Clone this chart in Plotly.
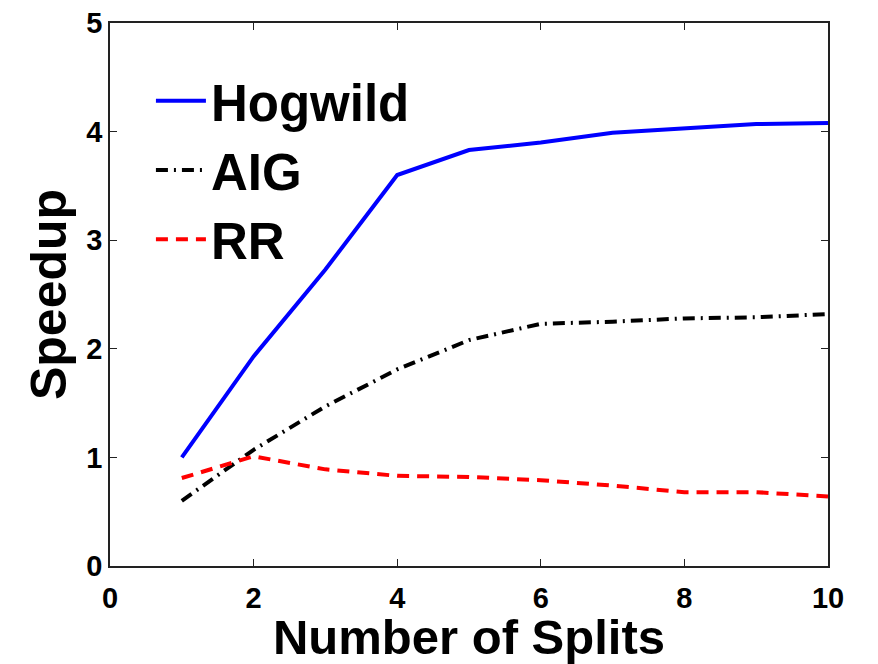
import plotly.graph_objects as go

splits = [1, 2, 3, 4, 5, 6, 7, 8, 9, 10]
hogwild = [1.00, 1.93, 2.73, 3.60, 3.83, 3.90, 3.99, 4.03, 4.07, 4.08]
aig = [0.60, 1.07, 1.47, 1.81, 2.08, 2.23, 2.25, 2.28, 2.29, 2.32]
rr = [0.81, 1.01, 0.89, 0.83, 0.82, 0.79, 0.74, 0.68, 0.68, 0.64]

x_ticks = [0, 2, 4, 6, 8, 10]
y_ticks = [0, 1, 2, 3, 4, 5]

FONT = "Liberation Sans, Arial, Helvetica, sans-serif"

fig = go.Figure()
fig.add_trace(go.Scatter(x=splits, y=hogwild, mode="lines", name="Hogwild", legendgroup="a",
                         line=dict(color="#0000ff", width=4)))
fig.add_trace(go.Scatter(x=splits, y=aig, mode="lines", name="AIG", legendgroup="b",
                         line=dict(color="#000000", width=4, dash="12px,6px,2px,6px")))
fig.add_trace(go.Scatter(x=splits, y=rr, mode="lines", name="RR", legendgroup="c",
                         line=dict(color="#ff0000", width=4, dash="12px,8px")))

axis_common = dict(
    showline=True, linecolor="#222", linewidth=1.5, mirror="ticks",
    ticks="inside", ticklen=7, tickwidth=1, tickcolor="#222",
    showgrid=False, zeroline=False, automargin=False,
    ticklabeloverflow="allow",
    tickfont=dict(family=FONT, size=29, color="black", weight="bold"),
)

# page body has an 8px offset, so the figure is sized/margined to compensate
fig.update_layout(
    width=870, height=656,
    margin=dict(l=102, r=50, t=15, b=97.5),
    paper_bgcolor="white", plot_bgcolor="white",
    font=dict(family=FONT, color="black"),
    xaxis=dict(range=[0, 10], tickvals=x_ticks, ticktext=[str(v) for v in x_ticks],
               ticklabelstandoff=5,
               title=dict(text="Number of Splits", font=dict(family=FONT, size=49, weight="bold"), standoff=0),
               **axis_common),
    yaxis=dict(range=[0, 5], tickvals=y_ticks, ticktext=[str(v) for v in y_ticks],
               title=dict(text="Speedup", font=dict(family=FONT, size=50, weight="bold"), standoff=4),
               **axis_common),
    legend=dict(x=0.057, y=0.93, xanchor="left", yanchor="top",
                bgcolor="rgba(0,0,0,0)", borderwidth=0,
                font=dict(family=FONT, size=51, color="black", weight="bold"),
                itemwidth=50, tracegroupgap=0),
    showlegend=True,
)

fig.write_html("out.html")
